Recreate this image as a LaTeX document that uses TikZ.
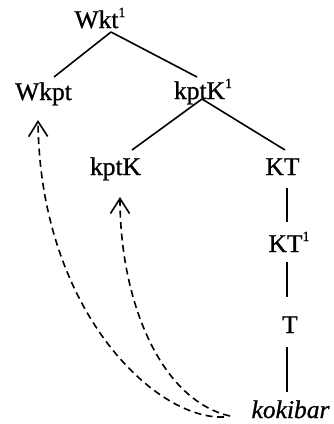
\documentclass[tikz,border=0pt]{standalone}
\usepackage{fontspec}
\setmainfont[FakeBold=0.9,AutoFakeBold=0.9]{Liberation Serif}
\usetikzlibrary{calc,arrows.meta}
\newcommand{\supone}{\raisebox{11pt}{\fontsize{14}{14}\selectfont 1}}
\begin{document}
\begin{tikzpicture}[x=1pt,y=-1pt,
  lab/.style={inner sep=0pt,anchor=base,font=\fontsize{25.5}{30}\selectfont},
  treeline/.style={line width=1.6pt},
  movearrow/.style={line width=1.6pt,dash pattern=on 7pt off 4.5pt,
    -{Straight Barb[length=15pt,width=19pt,line width=1.6pt]}}]
\useasboundingbox (0,0) rectangle (333,424);
\node[lab] (wkt)   at (100,28)  {Wkt\supone};
\node[lab] (wkpt)  at (43.5,100) {Wkpt};
\node[lab] (kptk1) at (203,99)  {kptK\supone};
\node[lab] (kptk)  at (115.5,175) {kptK};
\node[lab] (kt)    at (282.5,175) {KT};
\node[lab] (kt1)   at (289,252) {KT\supone};
\node[lab] (t)     at (290,333) {T};
\node[lab] (kok)   at (290.5,418) {\itshape kokibar};
% tree lines
\draw[treeline] ($(wkt.base)+(11,4)$) -- ($(wkpt.base)+(10.5,-23)$);
\draw[treeline] ($(wkt.base)+(11,4)$) -- ($(kptk1.base)+(-6,-22)$);
\draw[treeline] ($(kptk1.base)+(-1,0)$) -- ($(kptk.base)+(16.5,-25)$);
\draw[treeline] ($(kptk1.base)+(-1,0)$) -- ($(kt.base)+(2.5,-25)$);
\draw[treeline] ($(kt.base)+(4.5,13)$) -- ($(kt1.base)+(-2,-30)$);
\draw[treeline] ($(kt1.base)+(-2,10)$) -- ($(t.base)+(-3,-36)$);
\draw[treeline] ($(t.base)+(-3,14)$) -- ($(kok.base)+(-3.5,-26)$);
% movement arrows
\draw[movearrow] ($(kok.base)+(-66.5,-1)$) .. controls (155,420) and (40,310) .. ($(wkpt.base)+(-5.5,20)$);
\draw[movearrow] ($(kok.base)+(-60.5,-2)$) .. controls (160,400) and (120,300) .. ($(kptk.base)+(4.5,22)$);
\end{tikzpicture}
\end{document}
